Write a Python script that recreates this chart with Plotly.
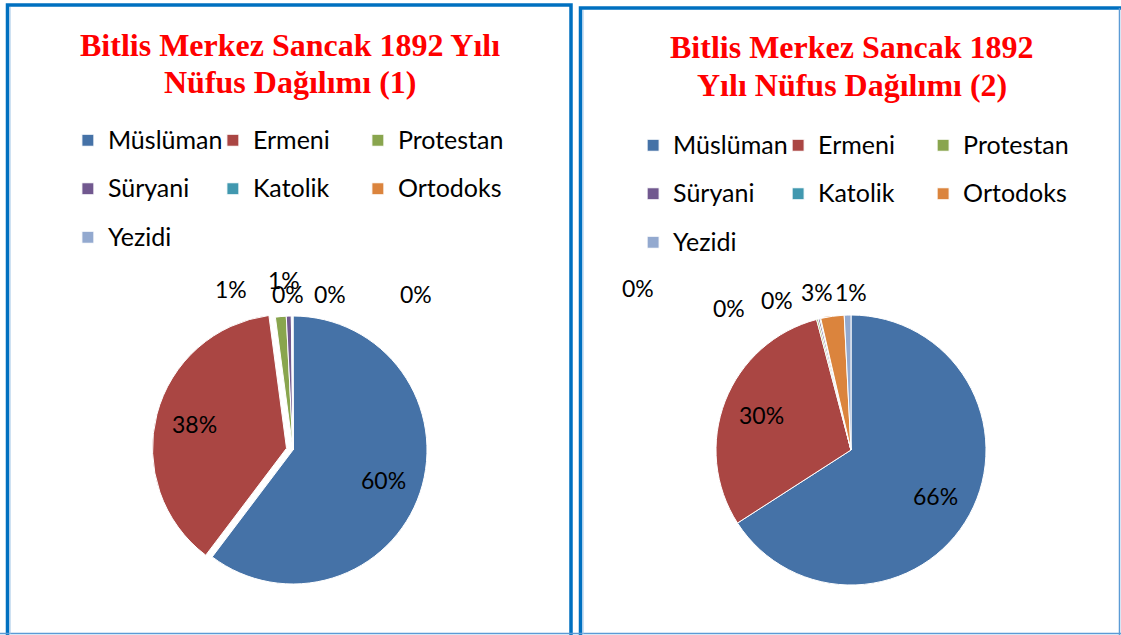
import math
import plotly.graph_objects as go

# ---- data ----
categories = ["Müslüman", "Ermeni", "Protestan", "Süryani", "Katolik", "Ortodoks", "Yezidi"]
values_1 = [60.3, 37.6, 1.3, 0.6, 0.1, 0.05, 0.05]   # Nüfus Dağılımı (1), %
values_2 = [65.9, 30.0, 0.2, 0.2, 0.1, 2.8, 0.8]     # Nüfus Dağılımı (2), %
title_1 = ["Bitlis Merkez Sancak 1892 Yılı", "Nüfus Dağılımı (1)"]
title_2 = ["Bitlis Merkez Sancak 1892", "Yılı Nüfus Dağılımı (2)"]

# ---- styles / layout ----
W, H = 1121, 635
colors = ["#4572A7", "#AA4643", "#89A54E", "#71588F", "#4198AF", "#DB843D", "#93A9CF"]
pull_1 = [0, 0.05, 0, 0, 0, 0, 0]
pull_2 = [0] * 7
LEG_TXT = 25
legend_labels = [f'<span style="font-size:{LEG_TXT}px;baseline-shift:5px">{c}</span>' for c in categories]

# pie geometry in pixels (center x, center y, radius)
pie_geo_1 = (293, 450, 134)
pie_geo_2 = (851, 450, 135)
# Excel-style placement of the labels of the thin slices (pixel offsets from pie centre)
small_offsets_1 = {2: (-62, -161), 3: (-9, -170), 4: (-5, -156), 5: (37, -156), 6: (123, -156)}
small_offsets_2 = {2: (-213, -162), 3: (-122, -142), 4: (-74, -150), 5: (-34, -158), 6: (0, -158)}
INSIDE_R = 0.71


def px(x):
    return x / W


def py(y):
    return 1 - y / H


def domain_for(geo, pulls):
    cx, cy, r = geo
    half = r * (1 + max(pulls))
    return dict(x=[px(cx - half), px(cx + half)], y=[py(cy + half), py(cy - half)])


fig = go.Figure()
for vals, pulls, geo, leg, grp in [(values_1, pull_1, pie_geo_1, "legend", "p1"),
                                   (values_2, pull_2, pie_geo_2, "legend2", "p2")]:
    fig.add_trace(go.Pie(
        labels=legend_labels, values=vals, pull=pulls,
        sort=False, direction="clockwise", rotation=0,
        marker=dict(colors=colors, line=dict(color="white", width=1)),
        textinfo="none", hoverinfo="percent",
        legend=leg, legendgroup=grp,
        domain=domain_for(geo, pulls),
    ))


def add_pct_labels(vals, pulls, geo, small_offsets):
    cx, cy, r = geo
    total = sum(vals)
    cum = 0.0
    for i, v in enumerate(vals):
        frac = v / total
        mid = 2 * math.pi * (cum + frac / 2)
        cum += frac
        if i in small_offsets:
            dx, dy = small_offsets[i]
            x, y = cx + dx, cy + dy
        else:
            pcx = cx + pulls[i] * r * math.sin(mid)
            pcy = cy - pulls[i] * r * math.cos(mid)
            x = pcx + INSIDE_R * r * math.sin(mid)
            y = pcy - INSIDE_R * r * math.cos(mid)
        fig.add_annotation(text=f"{frac:.0%}", x=px(x), y=py(y), xref="paper", yref="paper",
                           showarrow=False, xanchor="center", yanchor="middle",
                           font=dict(family="Lato", size=23, color="black"))


add_pct_labels(values_1, pull_1, pie_geo_1, small_offsets_1)
add_pct_labels(values_2, pull_2, pie_geo_2, small_offsets_2)

leg_common = dict(orientation="h", font=dict(family="Lato", size=35, color="black"),
                  entrywidth=100, bgcolor="rgba(0,0,0,0)", bordercolor="rgba(0,0,0,0)",
                  yanchor="top", traceorder="normal")
fig.update_layout(
    legend=dict(x=-0.001, xanchor="left", y=py(42), borderwidth=69, **leg_common),
    legend2=dict(x=1.001, xanchor="right", y=py(62), borderwidth=54, **leg_common),
)

tfont = dict(family="Liberation Serif", size=32, color="#FF0000")
for lines, xc, ys in [(title_1, 290, (45, 82)), (title_2, 852, (47, 85))]:
    for line, yy in zip(lines, ys):
        fig.add_annotation(text=f"<b>{line}</b>", x=px(xc), y=py(yy), xref="paper", yref="paper",
                           showarrow=False, font=tfont, xanchor="center", yanchor="middle")

dark = "#0070C0"
light = "#5B9BD5"
shapes = [
    dict(type="path", path=f"M {px(7.5)},{py(640)} L {px(7.5)},{py(5)} L {px(571)},{py(5)} L {px(571)},{py(640)}",
         line=dict(color=dark, width=3.5)),
    dict(type="path", path=f"M {px(580.5)},{py(640)} L {px(580.5)},{py(8)} L {px(1125)},{py(8)}",
         line=dict(color=dark, width=3.5)),
    dict(type="line", x0=px(1119.5), x1=px(1119.5), y0=py(8), y1=py(640), line=dict(color=light, width=1.5)),
    dict(type="line", x0=px(0), x1=px(W), y0=py(633.5), y1=py(633.5), line=dict(color=light, width=1.5)),
    dict(type="line", x0=px(10), x1=px(10), y0=py(7), y1=py(634), line=dict(color="#9DC3E6", width=1)),
    dict(type="line", x0=px(583), x1=px(583), y0=py(10), y1=py(634), line=dict(color="#9DC3E6", width=1)),
]
for s in shapes:
    s.update(xref="paper", yref="paper", layer="above")
    fig.add_shape(**s)

fig.update_layout(
    width=W, height=H,
    margin=dict(l=0, r=0, t=0, b=0, autoexpand=False),
    paper_bgcolor="white", plot_bgcolor="white",
    showlegend=True,
)
fig.write_html("out.html", config={"displayModeBar": False},
               post_script="document.body.style.margin='0px';")
